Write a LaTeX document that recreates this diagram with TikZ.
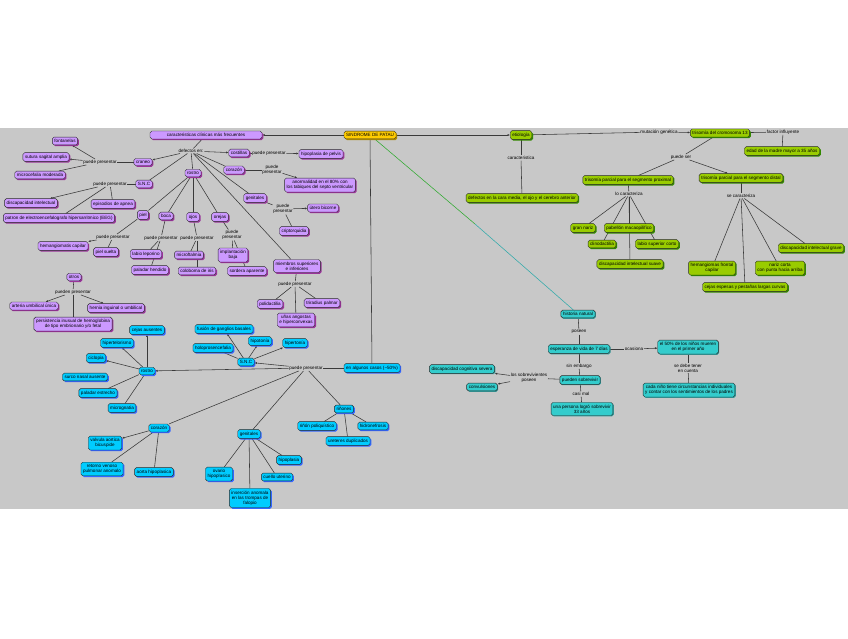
\documentclass[tikz,border=0pt]{standalone}
\usepackage{fontspec}
\setmainfont{Liberation Sans}
\usetikzlibrary{positioning, arrows.meta, shadows, backgrounds}
\definecolor{clrbg}{HTML}{C8C8C8}
\definecolor{clrborder}{HTML}{2A2A2A}
\definecolor{clrline}{HTML}{3A3A3A}
\definecolor{clrroot}{HTML}{FFCC00}
\definecolor{clrrootshade}{HTML}{B38F00}
\definecolor{clrpurple}{HTML}{CC99FF}
\definecolor{clrpurpleshade}{HTML}{993399}
\definecolor{clrgreen}{HTML}{99CC00}
\definecolor{clrgreenshade}{HTML}{338800}
\definecolor{clrcyan}{HTML}{00CCFF}
\definecolor{clrcyanshade}{HTML}{3366FF}
\definecolor{clrteal}{HTML}{33CCCC}
\definecolor{clrtealshade}{HTML}{339999}
\definecolor{clrgreenline}{HTML}{33AA33}
\definecolor{clrtealline}{HTML}{33AAAA}
\newcommand{\mapfont}{\fontsize{6.5}{7.3}\selectfont}

\begin{document}
\begin{tikzpicture}[
    x=0.05cm, y=-0.05cm,
    every node/.style={font=\mapfont},
    block/.style={draw=clrborder, rounded corners=2.5pt, line width=0.55pt,
                  inner xsep=3pt, inner ysep=3.2pt, align=center},
    pblock/.style={block, fill=clrpurple, drop shadow={shadow xshift=1.8pt, shadow yshift=-1.8pt, fill=clrpurpleshade, opacity=1}},
    gblock/.style={block, fill=clrgreen, drop shadow={shadow xshift=1.8pt, shadow yshift=-1.8pt, fill=clrgreenshade, opacity=1}},
    cblock/.style={block, fill=clrcyan, drop shadow={shadow xshift=1.8pt, shadow yshift=-1.8pt, fill=clrcyanshade, opacity=1}},
    tblock/.style={block, fill=clrteal, drop shadow={shadow xshift=1.2pt, shadow yshift=-1.2pt, fill=clrtealshade, opacity=1}},
    linktext/.style={inner sep=1pt, align=center},
    line/.style={draw=clrline, line width=0.8pt},
    arrow/.style={line, -{Latex[length=3.4pt, width=3pt]}},
]
\useasboundingbox (0,0) rectangle (848,638);
% root
\node[block, fill=clrroot, drop shadow={shadow xshift=1.8pt, shadow yshift=-1.8pt, fill=clrrootshade, opacity=1}] (n_root) at (370,135) {SINDROME DE PATAU};

% clinical features (purple)
\node[pblock, minimum width=5.6cm] (n_caract) at (206,135) {caracteristicas clínicas más frecuentes};
\node[linktext] (l_def) at (191,151) {defectos en:};
\node[pblock] (n_craneo) at (143,162) {craneo};
\node[linktext] (l_cra) at (100,162) {puede presentar};
\node[pblock] (n_font) at (65,141) {fontanelas};
\node[pblock] (n_sutura) at (46,157) {sutura sagital amplia};
\node[pblock] (n_micro) at (40,175) {microcefalia moderada};
\node[pblock] (n_snc) at (144,184) {S.N.C};
\node[linktext] (l_snc) at (110,184) {puede presentar};
\node[pblock] (n_disc) at (31,203) {discapacidad intelectual};
\node[pblock] (n_apnea) at (113,204) {episodios de apnea};
\node[pblock] (n_eeg) at (59,218) {patron de electroencefalografo hipersarritmico (EEG)};
\node[pblock] (n_rostro) at (193,173) {rostro};
\node[pblock] (n_piel) at (143,215) {piel};
\node[pblock] (n_boca) at (166,216) {boca};
\node[pblock] (n_ojos) at (193,217) {ojos};
\node[pblock] (n_orejas) at (220,217) {orejas};
\node[linktext] (l_piel) at (113,237) {puede presentar};
\node[pblock] (n_hemang) at (63,246) {hemangiomatis capilar};
\node[pblock] (n_pielsuelta) at (106,252) {piel suelta};
\node[linktext] (l_boca) at (161,238) {puede presentar};
\node[pblock] (n_labio) at (146,254) {labio leporino};
\node[pblock] (n_paladar) at (150,270) {paladar hendido};
\node[linktext] (l_ojos) at (197,238) {puede presentar};
\node[pblock] (n_microf) at (189,255) {microftalmia};
\node[pblock] (n_colob) at (197,271) {coloboma de iris};
\node[linktext] (l_orejas) at (232,235) {puede\\presentar};
\node[pblock] (n_implant) at (233,255) {implantación\\baja};
\node[pblock] (n_sordera) at (247,271) {sordera aparente};
\node[pblock] (n_costillas) at (239,153) {costillas};
\node[linktext] (l_cost) at (269,153) {puede presentar};
\node[pblock] (n_pelvis) at (321,154) {hipoplasia de pelvis};
\node[pblock] (n_corazon) at (234,170) {corazón};
\node[linktext] (l_cor) at (272,170) {puede\\presentar};
\node[pblock] (n_anorm) at (320,185) {anormalidad en el 80\% con\\los tabiques del septo ventricular};
\node[pblock] (n_genit) at (255,198) {genitales};
\node[linktext] (l_gen) at (283,209) {puede\\presentar};
\node[pblock] (n_utero) at (323,208) {útero bicorne};
\node[pblock] (n_cripto) at (294,231) {criptorquidia};
\node[pblock] (n_miembros) at (297,266) {miembros superiores\\e inferiores};
\node[linktext] (l_miem) at (295,284) {puede presentar};
\node[pblock] (n_polid) at (270,304) {polidactilia};
\node[pblock] (n_trirad) at (322,303) {triradius palmar};
\node[pblock] (n_unas) at (296,320) {uñas angostas\\e hiperconvexas};
\node[pblock] (n_otros) at (74,277) {otros};
\node[linktext] (l_otros) at (73,292) {pueden presentar};
\node[pblock] (n_arteria) at (34,306) {arteria umbilical única};
\node[pblock] (n_hernia) at (116,308) {hernia inguinal o umbilical};
\node[pblock] (n_persist) at (73,324) {persistencia inusual de hemoglobina\\de tipo embrionario y/o fetal};

% some cases (cyan)
\node[cblock] (n_casos) at (372,368) {en algunos casos (\textasciitilde 50\%)};
\node[linktext] (l_casos) at (306,368) {puede presentar};
\node[cblock] (n_crostro) at (147,371) {rostro};
\node[cblock] (n_csnc) at (246,362) {S.N.C};
\node[cblock] (n_fusion) at (224,329) {fusión de ganglios basales};
\node[cblock] (n_holo) at (213,348) {holoprosencefalia};
\node[cblock] (n_hipoto) at (260,341) {hipotonía};
\node[cblock] (n_hiperto) at (295,343) {hipertonía};
\node[cblock] (n_cejas) at (147,330) {cejas ausentes};
\node[cblock] (n_hiperte) at (117,343) {hipertelorismo};
\node[cblock] (n_ciclo) at (96,358) {ciclopia};
\node[cblock] (n_surco) at (85,377) {surco nasal ausente};
\node[cblock] (n_paladar2) at (98,393) {paladar estrecho};
\node[cblock] (n_micrognatia) at (122,408) {micrognatia};
\node[cblock] (n_ccorazon) at (159,428) {corazón};
\node[cblock] (n_valvula) at (105,443) {valvula aortica\\bicuspide};
\node[cblock] (n_retorno) at (102,469) {retorno venoso\\pulmonar anomalo};
\node[cblock] (n_aorta) at (154,472) {aorta hipoplasica};
\node[cblock] (n_cgenit) at (249,434) {genitales};
\node[cblock] (n_ovario) at (219,474) {ovario\\hipoplasico};
\node[cblock] (n_insercion) at (250,498) {inserción anomala\\en las trompas de\\falopio};
\node[cblock] (n_cuello) at (277,477) {cuello uterino};
\node[cblock] (n_hipopl) at (289,460) {hipoplasia};
\node[cblock] (n_rinones) at (344,409) {riñones};
\node[cblock] (n_poliq) at (317,426) {riñón poliquístico};
\node[cblock] (n_hidro) at (373,426) {hidronefrosis};
\node[cblock] (n_uret) at (348,441) {ureteres duplicados};

% etiology (green)
\node[gblock] (n_etio) at (521,135) {etiología};
\node[linktext] (l_etio) at (521,158) {caracteristica};
\node[gblock] (n_defectos) at (522,198) {defectos en la cara media, el ojo y el cerebro anterior};
\node[linktext] (l_mut) at (659,132) {mutación genética};
\node[gblock] (n_trisomia) at (720,133) {trisomía del cromosoma 13};
\node[linktext] (l_factor) at (783,132) {factor influyente};
\node[gblock] (n_edad) at (782,151) {edad de la madre mayor a 35 años};
\node[linktext] (l_puede) at (681,157) {puede ser};
\node[gblock] (n_prox) at (628,180) {trisomía parcial para el segmento proximal};
\node[gblock] (n_dist) at (741,178) {trisomía parcial para el segmento distal};
\node[linktext] (l_prox) at (629,194) {lo caracteriza};
\node[gblock] (n_gran) at (583,228) {gran nariz};
\node[gblock] (n_pabellon) at (629,228) {pabellón macaopilífico};
\node[gblock] (n_clino) at (602,244) {clinodactilia};
\node[gblock] (n_labiosup) at (657,244) {labio superior corto};
\node[gblock] (n_discsuave) at (630,264) {discapacidad intelectual suave};
\node[linktext] (l_dist) at (741,196) {se caracteriza};
\node[gblock] (n_discgrave) at (811,248) {discapacidad intelectual grave};
\node[gblock] (n_hemfront) at (712,268) {hemangiomas frontal\\capilar};
\node[gblock] (n_nariz) at (780,268) {nariz corta\\con punta hacia arriba};
\node[gblock] (n_cejasesp) at (745,287) {cejas espesas y pestañas largas curvas};

% natural history (teal)
\node[tblock] (n_hist) at (578,314) {historia natural};
\node[linktext] (l_hist) at (579,332) {poseen};
\node[tblock] (n_esper) at (579,349) {esperanza de vida de 7 días};
\node[linktext] (l_esper2) at (634,349) {ocasiona};
\node[tblock] (n_50) at (688,347) {el 50\% de los niños mueren\\en el primer año};
\node[linktext] (l_50) at (688,368) {se debe tener\\en cuenta};
\node[tblock] (n_cada) at (689,390) {cada niño tiene circunstancias individuales\\y contar con los sentimientos de los padres};
\node[linktext] (l_esper) at (579,366) {sin embargo};
\node[tblock] (n_pueden) at (580,380) {pueden sobrevivir};
\node[linktext] (l_casi) at (581,394) {casi mal};
\node[tblock] (n_persona) at (582,409) {una persona logró sobrevivir\\33 años};
\node[linktext] (l_sobrev) at (529,378) {los sobrevivientes\\poseen};
\node[tblock] (n_cogn) at (462,369) {discapacidad cognitiva severa};
\node[tblock] (n_conv) at (482,387) {convulsiones};
\coordinate (c_mid) at (475,224);

\begin{pgfonlayer}{background}
\fill[clrbg] (0,128) rectangle (848,509);
% purple branch
\draw[arrow] (n_root) -- (n_caract);
\draw[line] (n_caract) -- (l_def);
\draw[arrow] (l_def) -- (n_craneo);
\draw[line] (l_def) -- (n_snc);
\draw[line] (l_def) -- (n_rostro);
\draw[arrow] (l_def) -- (n_costillas);
\draw[line] (l_def) -- (n_corazon);
\draw[line] (l_def) -- (n_genit);
\draw[line] (l_def) -- (n_miembros);
\draw[line] (n_craneo) -- (l_cra);
\draw[arrow] (l_cra) -- (n_font);
\draw[arrow] (l_cra) -- (n_sutura);
\draw[line] (l_cra) -- (n_micro);
\draw[line] (n_snc) -- (l_snc);
\draw[arrow] (l_snc) -- (n_disc);
\draw[line] (l_snc) -- (n_apnea);
\draw[line] (l_snc) -- (n_eeg);
\foreach \k in {piel, boca, ojos, orejas}
  \draw[line] (n_rostro) -- (n_\k);
\draw[line] (n_piel) -- (l_piel);
\draw[arrow] (l_piel) -- (n_hemang);
\draw[line] (l_piel) -- (n_pielsuelta);
\draw[line] (n_boca) -- (l_boca);
\draw[line] (l_boca) -- (n_labio);
\draw[line] (l_boca) -- (n_paladar);
\draw[line] (n_ojos) -- (l_ojos);
\draw[line] (l_ojos) -- (n_microf);
\draw[line] (l_ojos) -- (n_colob);
\draw[line] (n_orejas) -- (l_orejas);
\draw[line] (l_orejas) -- (n_implant);
\draw[line] (l_orejas) -- (n_sordera);
\draw[line] (n_costillas) -- (l_cost);
\draw[arrow] (l_cost) -- (n_pelvis);
\draw[line] (n_corazon) -- (l_cor);
\draw[arrow] (l_cor) -- (n_anorm);
\draw[line] (n_genit) -- (l_gen);
\draw[arrow] (l_gen) -- (n_utero);
\draw[line] (l_gen) -- (n_cripto);
\draw[line] (n_miembros) -- (l_miem);
\foreach \k in {polid, trirad, unas}
  \draw[line] (l_miem) -- (n_\k);
\draw[line] (n_otros) -- (l_otros);
\draw[arrow] (l_otros) -- (n_arteria);
\draw[arrow] (l_otros) -- (n_hernia);
\draw[line] (l_otros) -- (n_persist);
% cyan branch
\draw[line] (n_root) -- (n_casos);
\draw[line] (n_casos) -- (l_casos);
\draw[arrow] (l_casos) -- (n_crostro);
\draw[arrow] (l_casos) -- (n_csnc);
\draw[line] (l_casos) -- (n_ccorazon);
\draw[line] (l_casos) -- (n_cgenit);
\draw[line] (l_casos) -- (n_rinones);
\foreach \k in {cejas, hiperte, ciclo}
  \draw[arrow] (n_crostro) -- (n_\k);
\draw[line] (n_crostro) -- (n_paladar2);
\draw[line] (n_crostro) -- (n_micrognatia);
\foreach \k in {fusion, hipoto, hiperto}
  \draw[arrow] (n_csnc) -- (n_\k);
\draw[line] (n_csnc) -- (n_holo);
\draw[arrow] (n_ccorazon) -- (n_valvula);
\draw[line] (n_ccorazon) -- (n_retorno);
\draw[line] (n_ccorazon) -- (n_aorta);
\foreach \k in {ovario, insercion, cuello, hipopl}
  \draw[line] (n_cgenit) -- (n_\k);
\foreach \k in {poliq, uret, hidro}
  \draw[line] (n_rinones) -- (n_\k);
% green branch
\draw[arrow] (n_root) -- (n_etio);
\draw[line] (n_etio) -- (l_etio);
\draw[line] (l_etio) -- (n_defectos);
\draw[line] (n_etio) -- (l_mut);
\draw[arrow] (l_mut) -- (n_trisomia);
\draw[line] (n_trisomia) -- (l_factor);
\draw[line] (l_factor) -- (n_edad);
\draw[line] (n_trisomia) -- (l_puede);
\draw[line] (l_puede) -- (n_prox);
\draw[arrow] (l_puede) -- (n_dist);
\draw[line] (n_prox) -- (l_prox);
\foreach \k in {gran, pabellon, clino, labiosup, discsuave}
  \draw[line] (l_prox) -- (n_\k);
\draw[line] (n_dist) -- (l_dist);
\foreach \k in {discgrave, hemfront, nariz, cejasesp}
  \draw[line] (l_dist) -- (n_\k);
% teal branch
\draw[clrgreenline, line width=0.8pt] (n_root) -- (c_mid);
\draw[clrtealline, line width=0.8pt] (c_mid) -- (n_hist);
\draw[line] (n_hist) -- (l_hist);
\draw[line] (l_hist) -- (n_esper);
\draw[line] (n_esper) -- (l_esper2);
\draw[arrow] (l_esper2) -- (n_50);
\draw[line] (n_50) -- (l_50);
\draw[line] (l_50) -- (n_cada);
\draw[line] (n_esper) -- (l_esper);
\draw[line] (l_esper) -- (n_pueden);
\draw[line] (n_pueden) -- (l_casi);
\draw[line] (l_casi) -- (n_persona);
\draw[line] (n_pueden) -- (l_sobrev);
\draw[arrow] (l_sobrev) -- (n_cogn);
\draw[arrow] (l_sobrev) -- (n_conv);
\end{pgfonlayer}
\end{tikzpicture}
\end{document}
